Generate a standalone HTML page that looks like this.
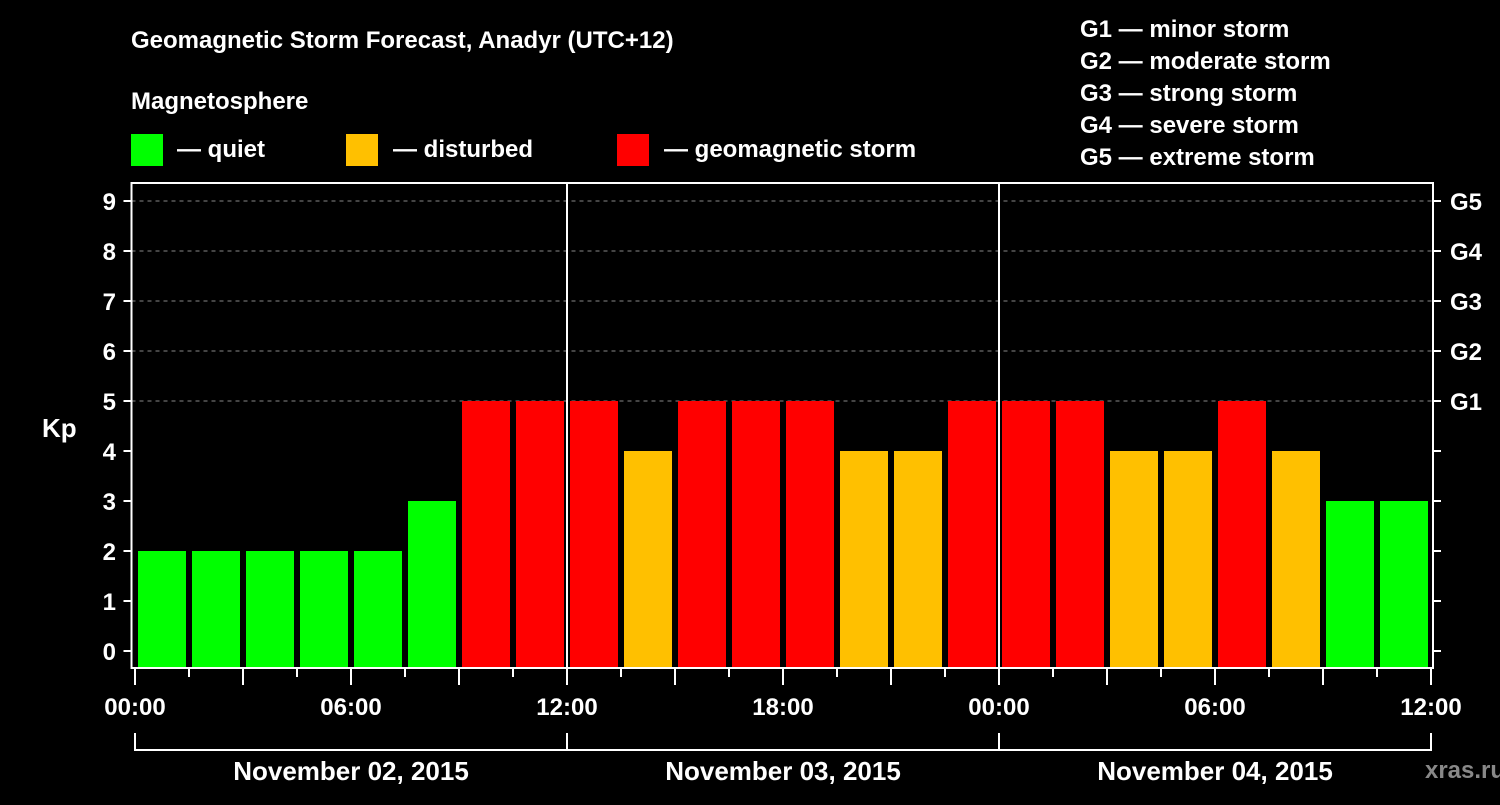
<!DOCTYPE html>
<html><head><meta charset="utf-8"><style>
body{margin:0;background:#000;}
svg text{font-family:"Liberation Sans",Arial,sans-serif;font-weight:bold;fill:#fff;}
</style></head><body>
<svg width="1500" height="800" xmlns="http://www.w3.org/2000/svg">
<rect width="1500" height="800" fill="#000"/>
<text x="131" y="48" font-size="24">Geomagnetic Storm Forecast, Anadyr (UTC+12)</text>
<text x="131" y="109" font-size="24">Magnetosphere</text>
<g>
<rect x="131" y="134" width="32" height="32" fill="#00ff00"/>
<text x="177" y="157" font-size="24">— quiet</text>
<rect x="346" y="134" width="32" height="32" fill="#ffc000"/>
<text x="393" y="157" font-size="24">— disturbed</text>
<rect x="617" y="134" width="32" height="32" fill="#ff0000"/>
<text x="664" y="157" font-size="24">— geomagnetic storm</text>
</g>
<g font-size="24">
<text x="1080" y="37">G1 — minor storm</text>
<text x="1080" y="69">G2 — moderate storm</text>
<text x="1080" y="101">G3 — strong storm</text>
<text x="1080" y="133">G4 — severe storm</text>
<text x="1080" y="165">G5 — extreme storm</text>
</g>
<g id="plot"></g>
<text x="42" y="437" font-size="26">Kp</text>
<text x="1465" y="778" font-size="24" fill="#888" style="fill:#888" text-anchor="middle">xras.ru</text>
</svg>
<script>
const kpValues=[2,2,2,2,2,3,5,5,5,4,5,5,5,4,4,5,5,5,4,4,5,4,3,3];
const dayLabels=["November 02, 2015","November 03, 2015","November 04, 2015"];
const hourLabels=["00:00","06:00","12:00","18:00"];
const gLabels=["G1","G2","G3","G4","G5"];
const NS="http://www.w3.org/2000/svg";
const g=document.getElementById('plot');
const x0=135,slot=54,axL=131.5,axR=1433,axT=183,axB=668;
const xs=i=>x0+i*slot;
const ys=v=>651-50*v;
function mk(t,a){const e=document.createElementNS(NS,t);for(const k in a)e.setAttribute(k,a[k]);g.appendChild(e);return e;}
for(let v=5;v<=9;v++){const l=mk('line',{x1:axL,x2:axR,y1:ys(v),y2:ys(v),stroke:'#888','stroke-dasharray':'4,4','stroke-width':1});

}
kpValues.forEach((v,i)=>{const c=v>=5?'#ff0000':v>=4?'#ffc000':'#00ff00';
const r=mk('rect',{x:xs(i)+3,y:ys(v),width:48,height:axB-ys(v),fill:c});

});
for(let d=1;d<3;d++){const l=mk('line',{x1:xs(d*8),x2:xs(d*8),y1:axT,y2:axB,stroke:'#fff','stroke-width':2});

}
const fr=mk('rect',{x:axL,y:axT,width:axR-axL,height:axB-axT,fill:'none',stroke:'#fff','stroke-width':2});


for(let v=0;v<=9;v++){
const t=mk('line',{x1:axL-8,x2:axL,y1:ys(v),y2:ys(v),stroke:'#fff','stroke-width':2});


const tr=mk('line',{x1:axR,x2:axR+8,y1:ys(v),y2:ys(v),stroke:'#fff','stroke-width':2});


const tx=mk('text',{x:116,y:ys(v)+9,'font-size':24,'text-anchor':'end'});tx.textContent=v;

}
gLabels.forEach((s,i)=>{const tx=mk('text',{x:1450,y:ys(5+i)+9,'font-size':24});tx.textContent=s;

});
for(let i=0;i<=24;i++){const major=i%2==0;
const t=mk('line',{x1:xs(i),x2:xs(i),y1:axB,y2:axB+(major?17:9),stroke:'#fff','stroke-width':2});


if(i%4==0){const tx=mk('text',{x:xs(i),y:715,'font-size':24,'text-anchor':'middle'});tx.textContent=hourLabels[(i/4)%4];

}}
const br=mk('path',{d:`M${xs(0)},733V750H${xs(24)}V733M${xs(8)},733V750M${xs(16)},733V750`,fill:'none',stroke:'#fff','stroke-width':2});


dayLabels.forEach((s,d)=>{const tx=mk('text',{x:xs(d*8+4),y:780,'font-size':26,'text-anchor':'middle'});tx.textContent=s;

});
</script>
</body></html>
